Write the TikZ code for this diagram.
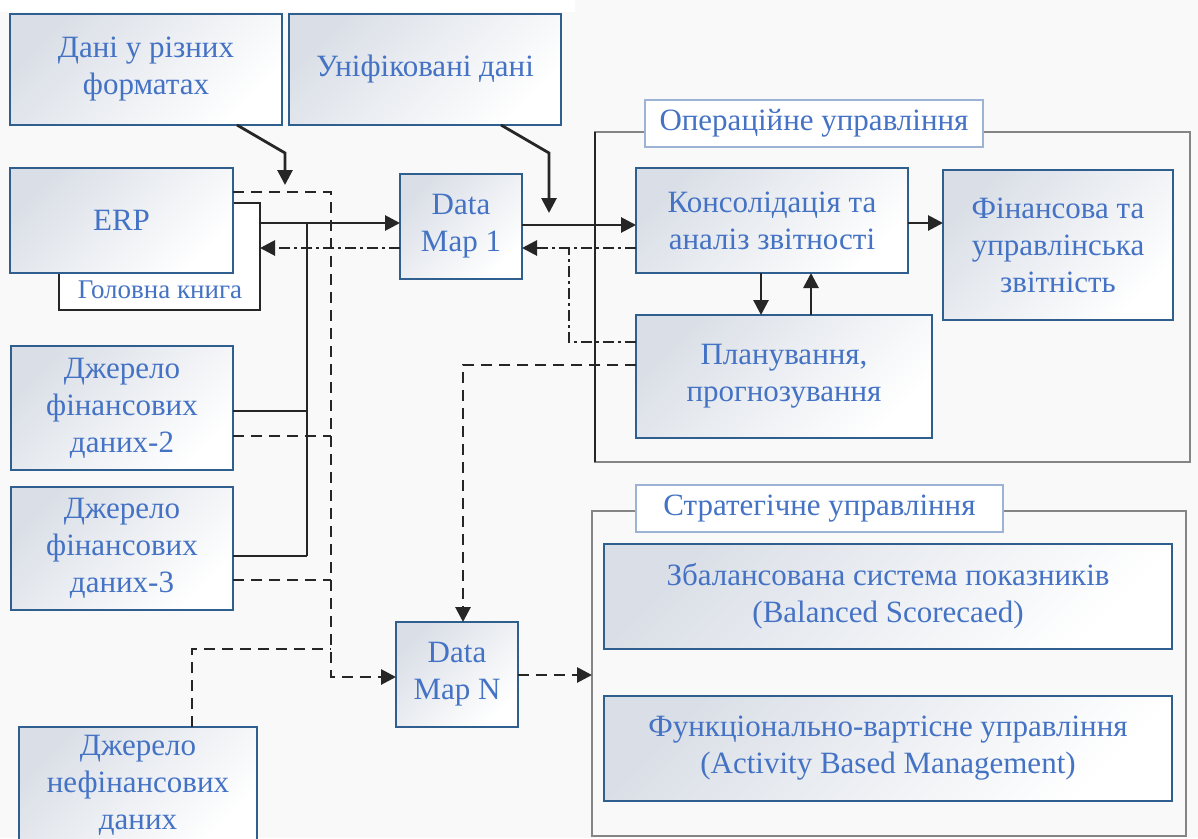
\documentclass[tikz,border=0pt]{standalone}
\usepackage{fontspec}
\setmainfont{Liberation Serif}
\newfontfamily\diagfont{Liberation Serif}
\usetikzlibrary{arrows.meta,calc}
\definecolor{txtblue}{HTML}{4472C4}
\definecolor{bordblue}{HTML}{2F5F8F}
\definecolor{labelbord}{HTML}{9DB3D6}
\definecolor{shadegray}{HTML}{DADFE7}
\definecolor{bgcol}{HTML}{F9F9F9}
\definecolor{linecol}{HTML}{262626}
\definecolor{framegray}{HTML}{858585}
\begin{document}
\begin{tikzpicture}[x=1pt,y=-1pt,
  box/.style={draw=bordblue, line width=1.8pt, top color=shadegray, bottom color=white, shading angle=45,
    text=txtblue, font=\diagfont\fontsize{31}{37}\selectfont, align=center, inner sep=0pt, outer sep=0pt},
  lbl/.style={draw=labelbord, line width=1.2pt, fill=white, text=txtblue,
    font=\diagfont\fontsize{31}{37}\selectfont, inner sep=0pt, outer sep=0pt},
  framebox/.style={draw=framegray, line width=2.8pt, inner sep=0pt, outer sep=0pt},
  conn/.style={draw=linecol, line width=2.8pt},
  arr/.style={conn, -{Triangle[length=15pt,width=15pt]}},
  dsh/.style={dash pattern=on 11pt off 7pt},
  ddot/.style={dash pattern=on 11pt off 4pt on 3pt off 4pt}
]
\useasboundingbox (0,0) rectangle (1198,838);
\fill[bgcol] (0,0) rectangle (1198,838);
\fill[white] (0,0) rectangle (575,12);
\begin{scope}
\clip (0,0) rectangle (1198,838);
% frames
\node[framebox, minimum width=595pt, minimum height=330pt] (op) at (892.5,297) {};
\node[framebox, minimum width=594pt, minimum height=325pt] (st) at (889,673.5) {};
\draw[linecol, line width=2.8pt] (op.north west) -- (op.south west);

% boxes
\node[box, minimum width=272pt, minimum height=111pt] (A) at (146,69.5) {Дані у різних\\форматах};
\node[box, minimum width=272pt, minimum height=111pt] (B) at (425,69.5) {Уніфіковані дані};
\node[draw=linecol, line width=2.8pt, fill=white, minimum width=201pt, minimum height=107pt, inner sep=0pt, outer sep=0pt] (ledger) at (159.5,256.5) {};
\node[fill=white, text=txtblue, font=\diagfont\fontsize{27}{30}\selectfont, inner sep=2pt] (ledgerlbl) at (160,290) {Головна книга};
\node[box, minimum width=223pt, minimum height=105pt] (erp) at (121.5,220.5) {ERP};
\node[box, minimum width=222pt, minimum height=124pt] (dj2) at (122,408) {Джерело\\фінансових\\даних-2};
\node[box, minimum width=222pt, minimum height=123pt] (dj3) at (122,548.5) {Джерело\\фінансових\\даних-3};
\node[box, minimum width=238pt, minimum height=117pt] (nf) at (138,785.5) {Джерело\\нефінансових\\даних};
\node[box, minimum width=122pt, minimum height=105pt] (dm1) at (461,226.5) {Data\\Map 1};
\node[box, minimum width=122pt, minimum height=105pt] (dmn) at (457,674.5) {Data\\Map N};
\node[box, minimum width=272pt, minimum height=105pt] (kon) at (772,220.5) {Консолідація та\\аналіз звітності};
\node[box, minimum width=230pt, minimum height=150pt] (fin) at (1058,245) {Фінансова та\\управлінська\\звітність};
\node[box, minimum width=296pt, minimum height=123pt] (pl) at (784,376.5) {Планування,\\прогнозування};
\node[lbl, minimum width=338pt, minimum height=47pt] (oplbl) at (814,123.5) {Операційне управління};
\node[lbl, minimum width=367pt, minimum height=47pt] (stlbl) at (819.5,508.5) {Стратегічне управління};
\node[box, minimum width=568pt, minimum height=105pt] (bsc) at (888,596.5) {Збалансована система показників\\(Balanced Scorecaed)};
\node[box, minimum width=568pt, minimum height=105pt] (abm) at (888,748.5) {Функціонально-вартісне управління\\(Activity Based Management)};

% connectors
\coordinate (a1) at (237,125);
\coordinate (a2) at (285,153);
\coordinate (a3) at (285,185);
\draw[arr] (a1) -- (a2) -- (a3);
\coordinate (b1) at (501,125);
\coordinate (b2) at (549,153);
\coordinate (b3) at (549,213);
\draw[arr] (b1) -- (b2) -- (b3);

% solid line collecting sources into Data Map 1
\coordinate (v1) at (307,223);
\coordinate (v2) at (307,411);
\coordinate (v3) at (307,556);
\draw[arr] (ledger.east |- 0,223) -- (dm1.west |- 0,223);
\draw[conn] (v1) -- (v3);
\draw[conn] (dj2.east |- 0,411) -- (v2);
\draw[conn] (dj3.east |- 0,556) -- (v3);

% dashed line into Data Map N
\coordinate (d1) at (331,192);
\coordinate (d2) at (331,677);
\draw[conn,dsh,-{Triangle[length=15pt,width=15pt]}] (erp.east |- 0,192) -- (d1) -- (d2) -- (dmn.west |- 0,677);
\draw[conn,dsh] (dj2.east |- 0,436) -- (331,436);
\draw[conn,dsh] (dj3.east |- 0,580) -- (331,580);
\draw[conn,dsh] (nf.north -| 192,0) -- (192,649) -- (331,649);

% dash-dot returns
\draw[conn,ddot,-{Triangle[length=15pt,width=15pt]}] (dm1.west |- 0,248) -- (ledger.east |- 0,248);
\draw[conn,ddot,-{Triangle[length=15pt,width=15pt]}] (kon.west |- 0,248) -- (dm1.east |- 0,248);
\draw[conn,ddot] (pl.west |- 0,342) -- (569,342) -- (569,248);

% planning -> Data Map N
\draw[conn,dsh,-{Triangle[length=15pt,width=15pt]}] (pl.west |- 0,365) -- (463,365) -- (dmn.north -| 463,0);

% arrows between boxes
\draw[arr] (dm1.east |- 0,225) -- (kon.west |- 0,225);
\draw[arr] (kon.east |- 0,223) -- (fin.west |- 0,223);
\draw[arr] (kon.south -| 761,0) -- (pl.north -| 761,0);
\draw[arr] (pl.north -| 811,0) -- (kon.south -| 811,0);
\draw[conn,dsh,-{Triangle[length=15pt,width=15pt]}] (dmn.east |- 0,675) -- (st.west |- 0,675);
\end{scope}
\end{tikzpicture}
\end{document}
